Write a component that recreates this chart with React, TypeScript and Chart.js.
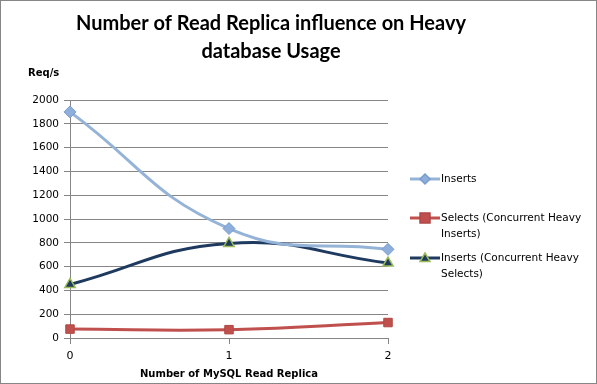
import React, { useEffect, useRef } from "react";
import { Chart, registerables } from "chart.js";

Chart.register(...registerables);

const categories = ["0", "1", "2"];
const insertsValues = [1900, 920, 745];
const selectsConcurrentValues = [75, 70, 130];
const insertsConcurrentValues = [450, 795, 630];
const yTicks = [0, 200, 400, 600, 800, 1000, 1200, 1400, 1600, 1800, 2000];
const titleLines = ["Number of Read Replica influence on Heavy", "database Usage"];
const yAxisTitle = "Req/s";
const xAxisTitle = "Number of MySQL Read Replica";
const legendItems = [
  ["Inserts"],
  ["Selects (Concurrent Heavy", "Inserts)"],
  ["Inserts (Concurrent Heavy", "Selects)"],
];

const FAMILY = "'DejaVu Sans', Verdana, sans-serif";

const decorPlugin = {
  id: "decor",
  afterDraw(chart: any) {
    const ctx = chart.ctx;
    const ca = chart.chartArea;
    ctx.save();
    // border
    ctx.strokeStyle = "#868686";
    ctx.lineWidth = 1;
    ctx.strokeRect(0.5, 0.5, chart.width - 1, chart.height - 1);
    // title
    ctx.fillStyle = "#000";
    ctx.font = "bold 20px Lato, 'Open Sans', sans-serif";
    ctx.textAlign = "center";
    ctx.textBaseline = "middle";
    ctx.fillText(titleLines[0], 271, 24);
    ctx.fillText(titleLines[1], 271, 52);
    // y axis title
    ctx.font = "bold 10px " + FAMILY;
    ctx.textAlign = "left";
    ctx.fillText(yAxisTitle, 28, 73);
    // x axis title
    ctx.textAlign = "center";
    ctx.fillText(xAxisTitle, (ca.left + ca.right) / 2, 374);
    // legend
    const ds = chart.data.datasets;
    const rows = [179, 218, 258];
    ctx.font = "10.5px " + FAMILY;
    for (let i = 0; i < legendItems.length; i++) {
      const d = ds[i];
      const y = rows[i];
      ctx.strokeStyle = d.borderColor;
      ctx.lineWidth = 3;
      ctx.beginPath();
      ctx.moveTo(410, y);
      ctx.lineTo(440, y);
      ctx.stroke();
      drawMarker(ctx, d.pointStyle, 425, y, 5, d.pointBackgroundColor, d.pointBorderColor);
      ctx.fillStyle = "#000";
      ctx.textAlign = "left";
      ctx.textBaseline = "middle";
      legendItems[i].forEach((t, j) => ctx.fillText(t, 441, y + j * 16));
    }
    ctx.restore();
  },
};

function drawMarker(ctx: any, style: string, x: number, y: number, r: number, fill: string, stroke: string) {
  ctx.save();
  ctx.fillStyle = fill;
  ctx.strokeStyle = stroke;
  ctx.lineWidth = 1.5;
  ctx.beginPath();
  if (style === "rectRot") {
    ctx.moveTo(x, y - r);
    ctx.lineTo(x + r, y);
    ctx.lineTo(x, y + r);
    ctx.lineTo(x - r, y);
  } else if (style === "rect") {
    ctx.rect(x - r, y - r, r * 2, r * 2);
  } else {
    ctx.moveTo(x, y - r);
    ctx.lineTo(x + r, y + r * 0.7);
    ctx.lineTo(x - r, y + r * 0.7);
  }
  ctx.closePath();
  ctx.fill();
  ctx.stroke();
  ctx.restore();
}

export default function App() {
  const ref = useRef<HTMLCanvasElement>(null);
  useEffect(() => {
    if (!ref.current) return;
    const chart = new Chart(ref.current, {
      type: "line",
      data: {
        labels: categories,
        datasets: [
          {
            label: "Inserts",
            data: insertsValues,
            borderColor: "#95b3d7",
            borderWidth: 3,
            tension: 0.45,
            pointStyle: "rectRot",
            pointRadius: 6,
            pointBorderWidth: 1,
            pointBackgroundColor: "#8eaedb",
            pointBorderColor: "#7a9ccd",
          },
          {
            label: "Selects (Concurrent Heavy Inserts)",
            data: selectsConcurrentValues,
            borderColor: "#c0504d",
            borderWidth: 3,
            tension: 0.45,
            pointStyle: "rect",
            pointRadius: 6,
            pointBorderWidth: 1,
            pointBackgroundColor: "#c0504d",
            pointBorderColor: "#b04845",
          },
          {
            label: "Inserts (Concurrent Heavy Selects)",
            data: insertsConcurrentValues,
            borderColor: "#1f3a5f",
            borderWidth: 3,
            tension: 0.45,
            pointStyle: "triangle",
            pointRadius: 6,
            pointBorderWidth: 1.5,
            pointBackgroundColor: "#1f3a5f",
            pointBorderColor: "#9bbb59",
          },
        ],
      } as any,
      options: {
        animation: false,
        responsive: false,
        maintainAspectRatio: false,
        layout: { padding: { left: 0, top: 100, right: 209, bottom: 0 } },
        plugins: {
          legend: { display: false },
          title: { display: false },
          tooltip: { enabled: false },
        },
        scales: {
          x: {
            type: "category",
            offset: false,
            afterFit: (s: any) => {
              s.height = 46;
            },
            grid: {
              drawOnChartArea: false,
              drawTicks: true,
              tickLength: 6,
              color: "#868686",
            },
            border: { color: "#868686" },
            ticks: {
              color: "#000",
              font: { family: FAMILY, size: 11 },
              padding: 6,
              maxRotation: 0,
            },
          },
          y: {
            min: 0,
            max: 2000,
            afterFit: (s: any) => {
              s.width = 70;
            },
            afterBuildTicks: (s: any) => {
              s.ticks = yTicks.map((v) => ({ value: v }));
            },
            grid: {
              color: "#868686",
              tickLength: 6,
            },
            border: { color: "#868686" },
            ticks: {
              color: "#000",
              font: { family: FAMILY, size: 10.5 },
              padding: 5,
              callback: (v: any) => String(v),
            },
          },
        },
      } as any,
      plugins: [decorPlugin],
    });
    return () => chart.destroy();
  }, []);
  return (
    <div style={{ position: "fixed", left: 0, top: 0, width: 597, height: 384, background: "#fff" }}>
      <canvas ref={ref} width={597} height={384} style={{ width: 597, height: 384 }} />
    </div>
  );
}
